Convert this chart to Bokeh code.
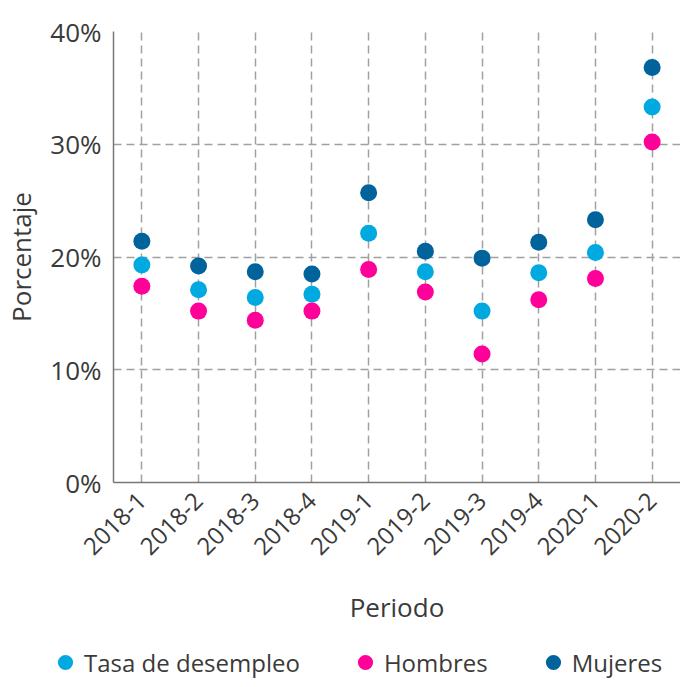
import math
from bokeh.plotting import figure
from bokeh.layouts import column
from bokeh.models import (ColumnDataSource, FactorRange, Range1d, FixedTicker,
                          PrintfTickFormatter, Legend, LegendItem)
from bokeh.embed import file_html
from bokeh.resources import INLINE

periods = ["2018-1", "2018-2", "2018-3", "2018-4", "2019-1",
           "2019-2", "2019-3", "2019-4", "2020-1", "2020-2"]
tasa = [19.3, 17.1, 16.4, 16.7, 22.1, 18.7, 15.2, 18.6, 20.4, 33.3]
hombres = [17.4, 15.2, 14.4, 15.2, 18.9, 16.9, 11.4, 16.2, 18.1, 30.2]
mujeres = [21.4, 19.2, 18.7, 18.5, 25.7, 20.5, 19.9, 21.3, 23.3, 36.8]
y_ticks = [0, 10, 20, 30, 40]

series_names = ["Tasa de desempleo", "Hombres", "Mujeres"]
colors = ["#00a9e0", "#ff0099", "#00639c"]

FONT = "Open Sans"
TEXT = "#3a3a3a"

p = figure(width=680, height=642, x_range=FactorRange(*periods),
           y_range=Range1d(0, 40), output_backend="svg",
           toolbar_location=None, min_border_left=104, min_border_right=0,
           min_border_top=31, min_border_bottom=160)
p.outline_line_color = None
p.background_fill_color = "white"

for name, vals, c in zip(series_names, [tasa, hombres, mujeres], colors):
    src = ColumnDataSource(dict(x=periods, y=vals))
    p.scatter("x", "y", source=src, size=17, color=c, line_color=None)

p.yaxis.ticker = FixedTicker(ticks=y_ticks)
p.yaxis.formatter = PrintfTickFormatter(format="%d%%")
for ax in (p.xaxis[0], p.yaxis[0]):
    ax.axis_line_color = "#777777"
    ax.axis_line_width = 1.5
    ax.major_tick_line_color = None
    ax.minor_tick_line_color = None
    ax.major_label_text_font = FONT
    ax.major_label_text_color = TEXT
    ax.axis_label_text_font = FONT
    ax.axis_label_text_color = TEXT
    ax.axis_label_text_font_style = "normal"
    ax.axis_label_text_font_size = "26px"

p.yaxis.major_label_text_font_size = "26px"
p.yaxis.axis_label = "Porcentaje"
p.yaxis.major_label_standoff = 6
p.yaxis.axis_label_standoff = 8

p.xaxis.major_label_text_font_size = "24px"
p.xaxis.major_label_orientation = math.pi / 4
p.xaxis.axis_label = "Periodo"
p.xaxis.major_label_standoff = 8
p.xaxis.axis_label_standoff = 24

for g in (p.xgrid[0], p.ygrid[0]):
    g.grid_line_color = "#a0a0a0"
    g.grid_line_dash = "8 5"
    g.grid_line_width = 1.5

# legend strip below the chart
leg = figure(width=680, height=40, x_range=Range1d(0, 1), y_range=Range1d(0, 1),
             output_backend="svg", toolbar_location=None,
             min_border=0, outline_line_color=None, frame_align=False)
leg.axis.visible = False
leg.grid.visible = False
items = []
for name, c in zip(series_names, colors):
    r = leg.scatter(x=[-5], y=[-5], size=17, color=c, line_color=None)
    items.append(LegendItem(label=name, renderers=[r]))
legend = Legend(items=items, orientation="horizontal", border_line_color=None,
                background_fill_alpha=0,
                label_text_font=FONT, label_text_font_size="24px",
                label_text_color=TEXT, glyph_width=38, glyph_height=38,
                spacing=46, label_standoff=-7, padding=0, margin=0,
                location=(46, 1))
leg.add_layout(legend, "center")

open("out.html", "w").write(file_html(column(p, leg, spacing=0), INLINE))
